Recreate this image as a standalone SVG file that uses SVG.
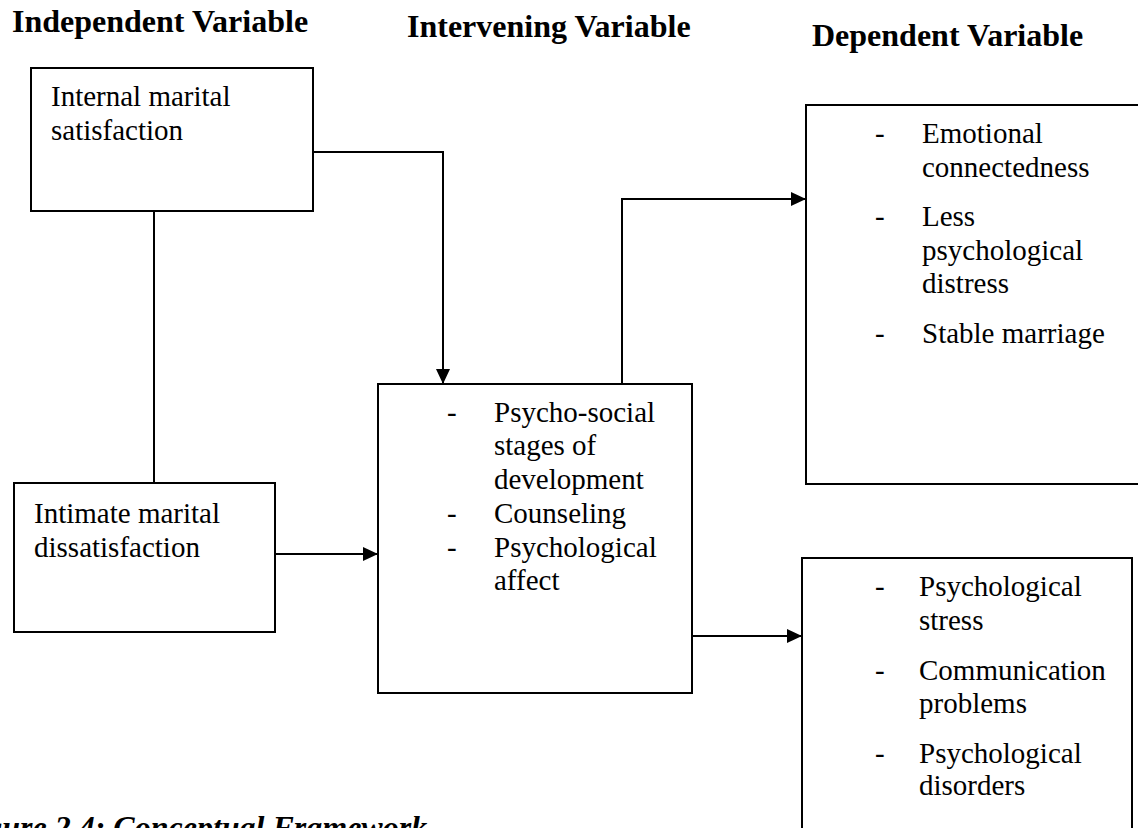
<svg xmlns="http://www.w3.org/2000/svg" width="1138" height="828" viewBox="0 0 1138 828">
<style>
.box{fill:#fff;stroke:#000;stroke-width:2}
.hd{font-family:"Liberation Serif","Times New Roman",serif;font-weight:bold;font-size:32px;fill:#000}
.tx{font-family:"Liberation Serif","Times New Roman",serif;font-size:29px;fill:#000}
.cap{font-family:"Liberation Serif","Times New Roman",serif;font-weight:bold;font-style:italic;font-size:32px;fill:#000}
.ln{fill:none;stroke:#000;stroke-width:2}
</style>
<defs>
<marker id="ah" markerUnits="userSpaceOnUse" markerWidth="16" markerHeight="15" refX="15" refY="7" orient="auto">
<path d="M0,0 L15,7 L0,14 z" fill="#000"/>
</marker>
</defs>
<rect width="1138" height="828" fill="#fff"/>
<g id="headers">
<text class="hd" x="12" y="32">Independent Variable</text>
<text class="hd" x="407" y="37">Intervening Variable</text>
<text class="hd" x="812" y="46">Dependent Variable</text>
</g>
<g id="connectors">
<path class="ln" d="M313,152 H443 V384" marker-end="url(#ah)"/>
<path class="ln" d="M154,211 V483"/>
<path class="ln" d="M275,554 H378" marker-end="url(#ah)"/>
<path class="ln" d="M622,384 V199 H806" marker-end="url(#ah)"/>
<path class="ln" d="M692,636 H802" marker-end="url(#ah)"/>
</g>
<g id="node-internal">
<rect class="box" x="31" y="68" width="282" height="143"/>
<text class="tx" x="51" y="106">Internal marital</text>
<text class="tx" x="51" y="140">satisfaction</text>
</g>
<g id="node-intimate">
<rect class="box" x="14" y="483" width="261" height="149"/>
<text class="tx" x="34" y="523">Intimate marital</text>
<text class="tx" x="34" y="557">dissatisfaction</text>
</g>
<g id="node-intervening">
<rect class="box" x="378" y="384" width="314" height="309"/>
<text class="tx" x="447" y="422">-</text>
<text class="tx" x="494" y="422">Psycho-social</text>
<text class="tx" x="494" y="455">stages of</text>
<text class="tx" x="494" y="489">development</text>
<text class="tx" x="447" y="523">-</text>
<text class="tx" x="494" y="523">Counseling</text>
<text class="tx" x="447" y="557">-</text>
<text class="tx" x="494" y="557">Psychological</text>
<text class="tx" x="494" y="590">affect</text>
</g>
<g id="node-positive">
<rect class="box" x="806" y="105" width="360" height="379"/>
<text class="tx" x="875" y="143">-</text>
<text class="tx" x="922" y="143">Emotional</text>
<text class="tx" x="922" y="177">connectedness</text>
<text class="tx" x="875" y="226">-</text>
<text class="tx" x="922" y="226">Less</text>
<text class="tx" x="922" y="260">psychological</text>
<text class="tx" x="922" y="293">distress</text>
<text class="tx" x="875" y="343">-</text>
<text class="tx" x="922" y="343">Stable marriage</text>
</g>
<g id="node-negative">
<rect class="box" x="802" y="558" width="330" height="300"/>
<text class="tx" x="875" y="596">-</text>
<text class="tx" x="919" y="596">Psychological</text>
<text class="tx" x="919" y="630">stress</text>
<text class="tx" x="875" y="680">-</text>
<text class="tx" x="919" y="680">Communication</text>
<text class="tx" x="919" y="713">problems</text>
<text class="tx" x="875" y="763">-</text>
<text class="tx" x="919" y="763">Psychological</text>
<text class="tx" x="919" y="795">disorders</text>
</g>
<g id="caption">
<text class="cap" x="-44" y="838">Figure 2.4: Conceptual Framework</text>
</g>
</svg>
